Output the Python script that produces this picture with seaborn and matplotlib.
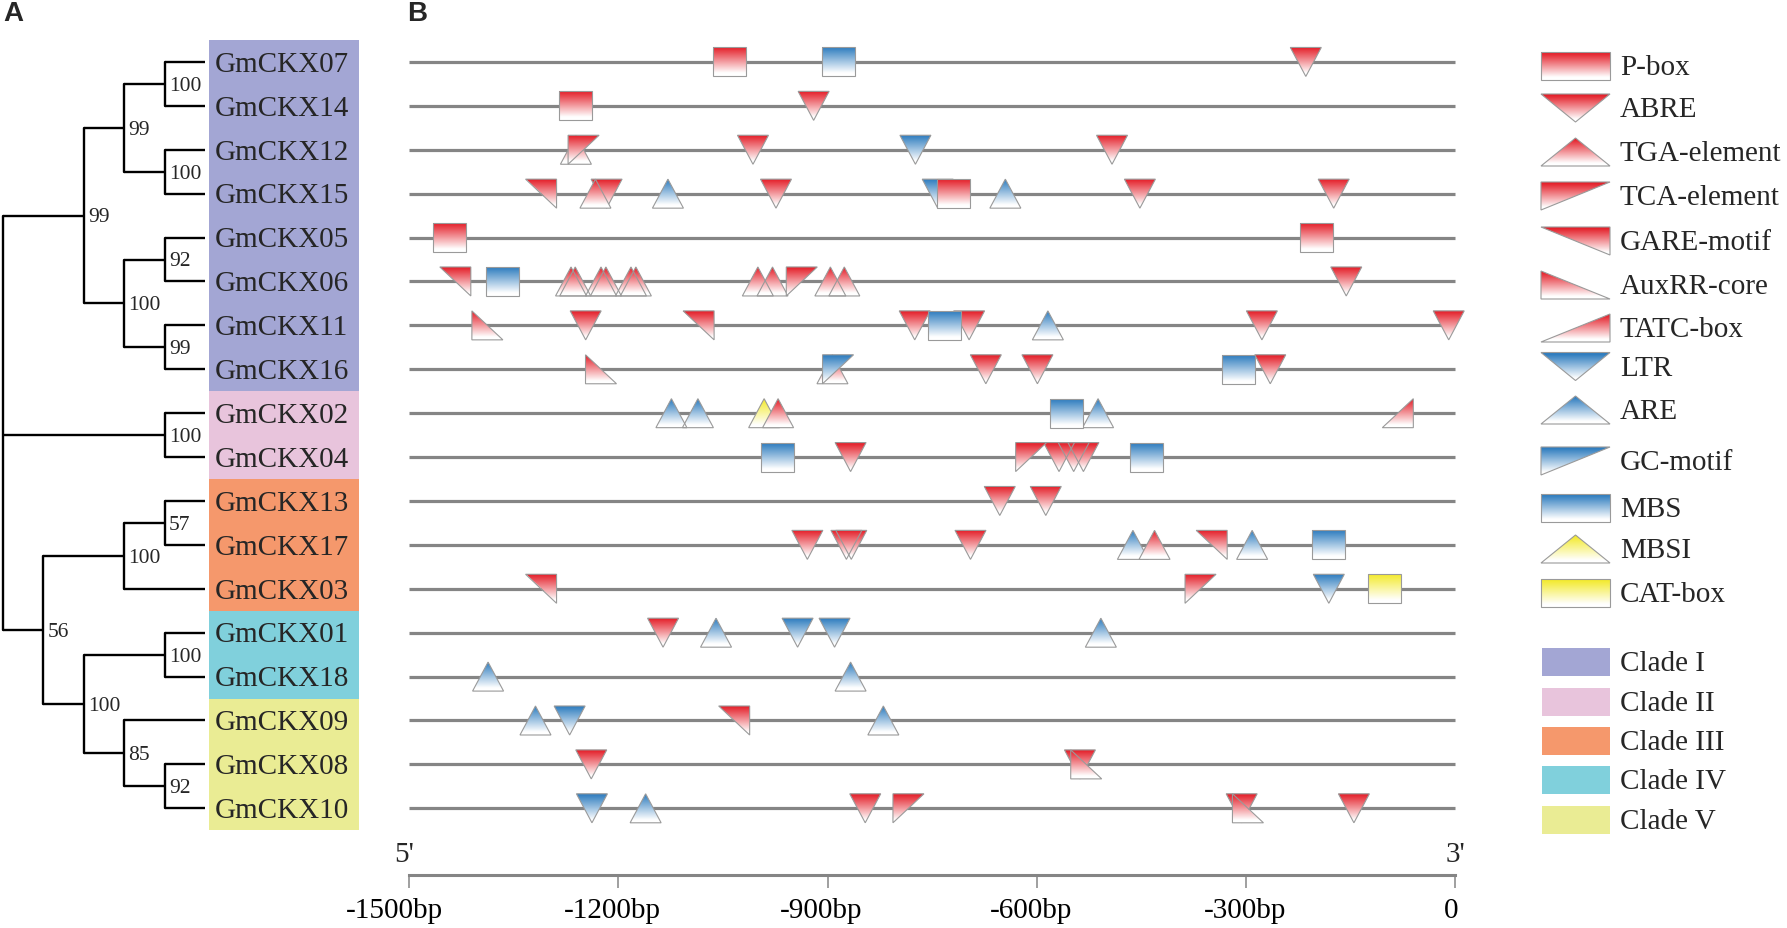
import numpy as np
import pandas as pd
import seaborn as sns
import matplotlib
matplotlib.use("Agg")
from matplotlib import pyplot as plt
from matplotlib.patches import Polygon
from matplotlib.colors import to_rgb
from matplotlib.transforms import ScaledTranslation

# %% data
GENES = ["GmCKX07", "GmCKX14", "GmCKX12", "GmCKX15", "GmCKX05", "GmCKX06",
         "GmCKX11", "GmCKX16", "GmCKX02", "GmCKX04", "GmCKX13", "GmCKX17",
         "GmCKX03", "GmCKX01", "GmCKX18", "GmCKX09", "GmCKX08", "GmCKX10"]
GENE_CLADE = ["Clade I"] * 8 + ["Clade II"] * 2 + ["Clade III"] * 3 + \
    ["Clade IV"] * 2 + ["Clade V"] * 3
CLADES = ["Clade I", "Clade II", "Clade III", "Clade IV", "Clade V"]

# tree: (bootstrap, [children]) or leaf name
TREE = (None, [
    (99, [(99, [(100, ["GmCKX07", "GmCKX14"]), (100, ["GmCKX12", "GmCKX15"])]),
          (100, [(92, ["GmCKX05", "GmCKX06"]), (99, ["GmCKX11", "GmCKX16"])])]),
    (100, ["GmCKX02", "GmCKX04"]),
    (56, [(100, [(57, ["GmCKX13", "GmCKX17"]), "GmCKX03"]),
          (100, [(100, ["GmCKX01", "GmCKX18"]),
                 (85, ["GmCKX09", (92, ["GmCKX08", "GmCKX10"])])])]),
])

# cis-element sites (gene, position in bp)
P_BOX = [("GmCKX07", -1040), ("GmCKX14", -1261), ("GmCKX15", -719),
         ("GmCKX05", -1442), ("GmCKX05", -198)]
ABRE = [("GmCKX07", -214), ("GmCKX14", -920), ("GmCKX12", -1007), ("GmCKX12", -492),
        ("GmCKX15", -1217), ("GmCKX15", -974), ("GmCKX15", -452), ("GmCKX15", -174),
        ("GmCKX06", -156), ("GmCKX11", -1247), ("GmCKX11", -775), ("GmCKX11", -697),
        ("GmCKX11", -277), ("GmCKX11", -9), ("GmCKX16", -673), ("GmCKX16", -599),
        ("GmCKX16", -265), ("GmCKX04", -867), ("GmCKX04", -568), ("GmCKX04", -547),
        ("GmCKX04", -533), ("GmCKX13", -653), ("GmCKX13", -587), ("GmCKX17", -929),
        ("GmCKX17", -873), ("GmCKX17", -866), ("GmCKX17", -695), ("GmCKX01", -1136),
        ("GmCKX08", -1239), ("GmCKX08", -538), ("GmCKX10", -846), ("GmCKX10", -306),
        ("GmCKX10", -145)]
TGA = [("GmCKX12", -1261), ("GmCKX15", -1233), ("GmCKX06", -1268), ("GmCKX06", -1262),
       ("GmCKX06", -1225), ("GmCKX06", -1218), ("GmCKX06", -1182), ("GmCKX06", -1175),
       ("GmCKX06", -1000), ("GmCKX06", -979), ("GmCKX06", -896), ("GmCKX06", -876),
       ("GmCKX16", -893), ("GmCKX02", -971), ("GmCKX17", -431)]
TCA = [("GmCKX12", -1250), ("GmCKX06", -937), ("GmCKX04", -608), ("GmCKX03", -365),
       ("GmCKX10", -784)]
GARE = [("GmCKX15", -1311), ("GmCKX06", -1434), ("GmCKX11", -1085), ("GmCKX17", -349),
        ("GmCKX03", -1311), ("GmCKX09", -1034)]
AUXRR = [("GmCKX11", -1388), ("GmCKX16", -1225), ("GmCKX08", -529), ("GmCKX10", -297)]
TATC = [("GmCKX02", -82)]
LTR = [("GmCKX12", -774), ("GmCKX15", -742), ("GmCKX03", -181), ("GmCKX01", -943),
       ("GmCKX01", -890), ("GmCKX09", -1270), ("GmCKX10", -1238)]
ARE = [("GmCKX15", -1129), ("GmCKX15", -645), ("GmCKX11", -584), ("GmCKX02", -1124),
       ("GmCKX02", -1086), ("GmCKX02", -512), ("GmCKX17", -462), ("GmCKX17", -291),
       ("GmCKX01", -1060), ("GmCKX01", -508), ("GmCKX18", -1387), ("GmCKX18", -867),
       ("GmCKX09", -1319), ("GmCKX09", -820), ("GmCKX10", -1161)]
GC_MOTIF = [("GmCKX16", -885)]
MBS = [("GmCKX07", -884), ("GmCKX06", -1366), ("GmCKX11", -732), ("GmCKX16", -310),
       ("GmCKX02", -557), ("GmCKX04", -972), ("GmCKX04", -443), ("GmCKX17", -182)]
MBSI = [("GmCKX02", -991)]
CAT_BOX = [("GmCKX03", -101)]

LEGEND_ORDER = ["P-box", "ABRE", "TGA-element", "TCA-element", "GARE-motif",
                "AuxRR-core", "TATC-box", "LTR", "ARE", "GC-motif", "MBS",
                "MBSI", "CAT-box"]
SITES = {"P-box": P_BOX, "ABRE": ABRE, "TGA-element": TGA, "TCA-element": TCA,
         "GARE-motif": GARE, "AuxRR-core": AUXRR, "TATC-box": TATC, "LTR": LTR,
         "ARE": ARE, "GC-motif": GC_MOTIF, "MBS": MBS, "MBSI": MBSI, "CAT-box": CAT_BOX}

TICKS = [-1500, -1200, -900, -600, -300, 0]
TICK_LABELS = ["-1500bp", "-1200bp", "-900bp", "-600bp", "-300bp", "0"]

# %% styles
RED, BLUE, YELLOW = "#E4202A", "#2F7DBF", "#F3EA2E"
EDGE = "#9a9a9a"
LINE_GRAY = "#858585"
CLADE_COLORS = {"Clade I": "#A3A6D4", "Clade II": "#E8C4DC", "Clade III": "#F5986C",
                "Clade IV": "#80D0DC", "Clade V": "#EAEC94"}
STYLE = {"P-box": ("box", RED), "ABRE": ("down", RED), "TGA-element": ("up", RED),
         "TCA-element": ("tca", RED), "GARE-motif": ("gare", RED),
         "AuxRR-core": ("auxrr", RED), "TATC-box": ("tatc", RED), "LTR": ("down", BLUE),
         "ARE": ("up", BLUE), "GC-motif": ("tca", BLUE), "MBS": ("box", BLUE),
         "MBSI": ("up", YELLOW), "CAT-box": ("box", YELLOW)}
DRAW_ORDER = ["ABRE", "LTR", "MBSI", "ARE", "TGA-element", "P-box", "MBS", "CAT-box",
              "TCA-element", "GARE-motif", "AuxRR-core", "TATC-box", "GC-motif"]
SHAPE_VERTS = {"box": [(-1, -1), (1, -1), (1, 1), (-1, 1)],
               "down": [(-1, -1), (1, -1), (0, 1)],
               "up": [(0, -1), (1, 1), (-1, 1)],
               "tca": [(-1, -1), (1, -1), (-1, 1)],
               "gare": [(-1, -1), (1, -1), (1, 1)],
               "auxrr": [(-1, -1), (-1, 1), (1, 1)],
               "tatc": [(-1, 1), (1, 1), (1, -1)]}
TICK_SHIFT_PX = [-15, -6, -6, -6, -1, -4]

sns.set_theme(style="white")
plt.rcParams['font.family'] = ['Liberation Serif', 'DejaVu Serif']
FS = 21

W, H = 1787, 929
fig = plt.figure(figsize=(W / 100, H / 100), dpi=100)

# vertical layout (pixels): row -0.5 at 41, axis line at 876
Y_TOP, Y_AX = 41.0, 876.0
ROW_PX = 43.9
YLIM = ((Y_AX - 63) / ROW_PX, -0.5)
bottom = 1 - Y_AX / H
height = (Y_AX - Y_TOP) / H


def gradient(color, n=80):
    t = np.linspace(0, 1, n)[:, None]
    t = np.clip((t - 0.04) / 0.86, 0, 1)
    c = np.array(to_rgb(color))
    rgb = (1 - t)[:, :, None] * c[None, None, :] + t[:, :, None]
    return np.repeat(rgb, 2, axis=1)


def draw_shape(ax, shape, xc, yc, hw, hh, color, z):
    verts = [(xc + u * hw, yc + v * hh) for u, v in SHAPE_VERTS[shape]]
    poly = Polygon(verts, closed=True, facecolor='none', edgecolor=EDGE,
                   lw=0.8, zorder=z + 1, clip_on=False)
    ax.add_patch(poly)
    im = ax.imshow(gradient(color), extent=(xc - hw, xc + hw, yc + hh, yc - hh),
                   origin='upper', aspect='auto', interpolation='bilinear', zorder=z)
    im.set_clip_path(poly)


# %% panel B: promoter map
PX_PER_BP = (1455 - 409.3) / 1500
X_PAD = 30
left_px = 409.3 - X_PAD * PX_PER_BP
ax = fig.add_axes([left_px / W, bottom, (1500 + 2 * X_PAD) * PX_PER_BP / W, height])

backbone = pd.DataFrame({"gene": np.repeat(GENES, 2),
                         "bp": [-1500, 0] * len(GENES),
                         "row": np.repeat(np.arange(len(GENES)), 2)})
sns.lineplot(data=backbone, x="bp", y="row", units="gene", estimator=None,
             color=LINE_GRAY, lw=2.3, sort=False, ax=ax, solid_capstyle='butt')

row_of = {g: i for i, g in enumerate(GENES)}
hh = 14.5 / ROW_PX
for k, name in enumerate(DRAW_ORDER):
    shape, color = STYLE[name]
    hw = (16.5 if shape == "box" else 15.5) / PX_PER_BP
    for gene, pos in SITES[name]:
        draw_shape(ax, shape, pos, row_of[gene], hw, hh, color, 3 + 2 * k)

ax.set_xlim(-1500 - X_PAD, X_PAD)
ax.set_ylim(*YLIM)
ax.set_xlabel("")
ax.set_ylabel("")
ax.set_yticks([])
for s in ["left", "top", "right"]:
    ax.spines[s].set_visible(False)
ax.spines["bottom"].set_bounds(-1500, 0)
ax.spines["bottom"].set_color(LINE_GRAY)
ax.spines["bottom"].set_linewidth(2.2)
ax.set_xticks(TICKS, labels=TICK_LABELS)
ax.tick_params(axis='x', bottom=True, direction='out', length=9, width=1.1,
               color=LINE_GRAY, pad=6.5, labelsize=FS, labelcolor='black')
for lab, dx in zip(ax.get_xticklabels(), TICK_SHIFT_PX):
    lab.set_transform(lab.get_transform() + ScaledTranslation(dx / 100, 0, fig.dpi_scale_trans))
for txt, xpos in [("5'", -1500), ("3'", 0)]:
    ax.annotate(txt, xy=(xpos, 0), xycoords=('data', 'axes fraction'),
                xytext=(-4 if xpos < -1000 else 0, 15), textcoords='offset points',
                ha='center', va='center', fontsize=FS, annotation_clip=False)

# %% panel A: tree
ax_tree = fig.add_axes([0, bottom, 209 / W, height])
D_PX = 40.4


def tree_height(node):
    if isinstance(node, str):
        return 0
    return 1 + max(tree_height(c) for c in node[1])


def draw_tree(node):
    if isinstance(node, str):
        return 5, row_of[node]
    support, children = node
    x = 5 - tree_height(node)
    pts = [draw_tree(c) for c in children]
    ys = [p[1] for p in pts]
    ax_tree.plot([x, x], [min(ys), max(ys)], color='black', lw=1.7)
    for cx, cy in pts:
        ax_tree.plot([x, cx], [cy, cy], color='black', lw=1.7, solid_capstyle='butt')
    y = float(np.mean(ys))
    if support is not None:
        ax_tree.annotate(str(support), xy=(x, y), xytext=(3, -1),
                         textcoords='offset points', ha='left', va='center',
                         fontsize=15.5)
    return x, y


draw_tree(TREE)
ax_tree.set_xlim(-3 / D_PX, 206 / D_PX)
ax_tree.set_ylim(*YLIM)
ax_tree.axis('off')

# gene labels on clade-coloured boxes
ax_lab = fig.add_axes([209 / W, bottom, 150 / W, height])
sns.barplot(x=[1] * len(GENES), y=GENES, hue=GENE_CLADE, palette=CLADE_COLORS,
            orient='h', width=1, dodge=False, legend=False, saturation=1,
            linewidth=0, ax=ax_lab)
for i, g in enumerate(GENES):
    ax_lab.text(0.035, i + 0.04, g, ha='left', va='center', fontsize=FS)
ax_lab.set_xlim(0, 1)
ax_lab.set_ylim(*YLIM)
ax_lab.axis('off')

# %% legend
LEG_Y = [66.5, 109, 153, 197, 242, 286, 329, 367.5, 411, 462, 509, 550, 594]
CLADE_Y = [663, 703, 742, 781, 821]
ax_leg = fig.add_axes([1530 / W, 0, (W - 1530) / W, 1])
ax_leg.axis('off')
for k, (name, y) in enumerate(zip(LEGEND_ORDER, LEG_Y)):
    shape, color = STYLE[name]
    draw_shape(ax_leg, shape, 1575.5, y, 34.5, 14, color, 3 + 2 * k)
    ax_leg.text(1620, y + 1, name, ha='left', va='center', fontsize=FS)
for name, y in zip(CLADES, CLADE_Y):
    ax_leg.add_patch(plt.Rectangle((1542, y - 14), 68, 28, color=CLADE_COLORS[name], lw=0))
    ax_leg.text(1620, y + 1, name, ha='left', va='center', fontsize=FS)
ax_leg.set_xlim(1530, W)
ax_leg.set_ylim(H, 0)

for lab, xp in [("A", 3), ("B", 407)]:
    fig.text(xp / W, 1 - 14 / H, lab, ha='left', va='center', fontsize=20,
             fontweight='bold', family=['Liberation Sans', 'DejaVu Sans'])

fig.savefig("out.png", dpi=100)
